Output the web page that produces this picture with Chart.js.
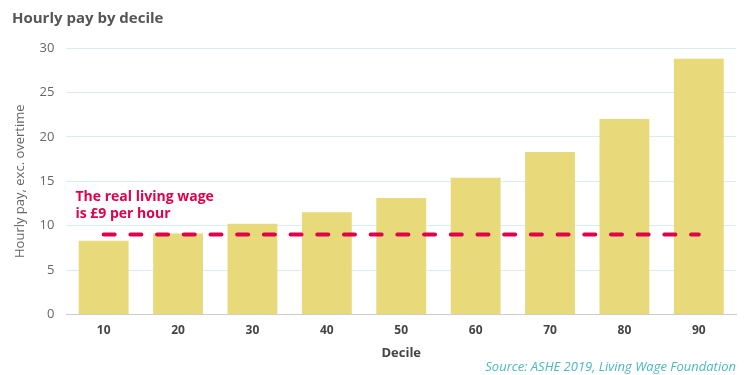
<!DOCTYPE html>
<html>
<head>
<meta charset="utf-8">
<script src="https://cdn.jsdelivr.net/npm/chart.js@4"></script>
<style>
  html, body { margin: 0; padding: 0; background: #fff; }
  #wrap { width: 750px; height: 375px; }
</style>
</head>
<body>
<div id="wrap"><canvas id="payChart"></canvas></div>
<script>
const deciles = ['10', '20', '30', '40', '50', '60', '70', '80', '90'];
const hourlyPay = [8.3, 9.1, 10.2, 11.5, 13.1, 15.4, 18.3, 22.0, 28.8];
const livingWage = [9, 9, 9, 9, 9, 9, 9, 9, 9];
const noteLines = ['The real living wage', 'is £9 per hour'];

Chart.defaults.font.family = "'Open Sans', 'Noto Sans', sans-serif";
Chart.defaults.font.size = 13;
Chart.defaults.color = '#666';

// draws the living wage note above the dashed line
const wageNote = {
  id: 'wageNote',
  afterDatasetsDraw(chart) {
    const { ctx, chartArea, scales } = chart;
    ctx.save();
    ctx.font = "bold 14px 'Open Sans', 'Noto Sans', sans-serif";
    ctx.fillStyle = '#E0004D';
    ctx.textBaseline = 'middle';
    ctx.fillText(noteLines[0], chartArea.left + 9, scales.y.getPixelForValue(13.2));
    ctx.fillText(noteLines[1], chartArea.left + 9, scales.y.getPixelForValue(11.25));
    ctx.restore();
  }
};

new Chart(document.getElementById('payChart'), {
  data: {
    labels: deciles,
    datasets: [
      {
        type: 'line',
        label: 'Real living wage',
        data: livingWage,
        borderColor: '#E0004D',
        borderWidth: 4,
        borderDash: [11, 15.7],
        borderCapStyle: 'round',
        pointRadius: 0,
        fill: false,
        order: 0
      },
      {
        type: 'bar',
        label: 'Hourly pay',
        data: hourlyPay,
        backgroundColor: '#E8D97A',
        barPercentage: 0.67,
        categoryPercentage: 1,
        order: 1
      }
    ]
  },
  options: {
    responsive: true,
    maintainAspectRatio: false,
    animation: false,
    layout: { padding: { left: 12, right: 14, top: 9, bottom: 0 } },
    plugins: {
      legend: { display: false },
      tooltip: { enabled: false },
      title: {
        display: true,
        text: 'Hourly pay by decile',
        align: 'start',
        color: '#555',
        font: { size: 15, weight: 'bold' },
        padding: { top: 1, bottom: 20 }
      },
      subtitle: {
        display: true,
        text: 'Source: ASHE 2019, Living Wage Foundation',
        position: 'bottom',
        align: 'end',
        color: '#4DB8C0',
        font: { size: 13, style: 'italic' },
        padding: { top: 0, bottom: 0 }
      }
    },
    scales: {
      x: {
        grid: { display: false, drawTicks: false },
        border: { color: '#cccccc' },
        ticks: { color: '#444', font: { size: 12, weight: 'bold', lineHeight: 1 }, padding: 10 },
        title: {
          display: true,
          text: 'Decile',
          color: '#444',
          font: { size: 13, weight: 'bold', lineHeight: 1 },
          padding: { top: 0, bottom: 0 }
        }
      },
      y: {
        min: 0,
        max: 30,
        border: { display: false },
        grid: {
          drawTicks: false,
          color: (c) => (c.tick && c.tick.value === 0 ? '#cccccc' : '#D6EEF1')
        },
        ticks: { stepSize: 5, padding: 12, color: '#666', font: { size: 13 } },
        title: {
          display: true,
          text: 'Hourly pay, exc. overtime',
          color: '#666',
          font: { size: 13 },
          padding: { top: 0, bottom: 0 }
        }
      }
    }
  },
  plugins: [wageNote]
});
</script>
</body>
</html>
